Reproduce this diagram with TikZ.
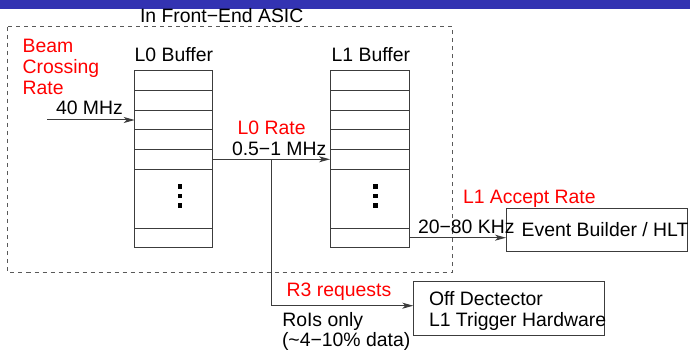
\documentclass[tikz,border=0pt]{standalone}
\usepackage{fontspec}
\setmainfont{Liberation Sans}
\usetikzlibrary{arrows.meta}
\definecolor{barblue}{RGB}{51,51,178}
\definecolor{linegray}{RGB}{60,60,60}
\begin{document}
\begin{tikzpicture}[x=1pt,y=-1pt,
  every node/.style={font=\fontsize{19.4}{21}\selectfont, inner sep=0pt, outer sep=0pt},
  lbl/.style={anchor=base west},
  redlbl/.style={anchor=base west, text=red},
  boxst/.style={draw=linegray, line width=1pt, rectangle},
  rowline/.style={draw=linegray, line width=1pt},
  arr/.style={draw=linegray, line width=1pt, -{Stealth[length=11pt,width=6pt,inset=3pt]}},
  wire/.style={draw=linegray, line width=1pt},
  dotsq/.style={fill=black, minimum size=4.5pt},
  frame/.style={draw=black!65, line width=1pt, dash pattern=on 4pt off 4pt}]
\useasboundingbox (0,0) rectangle (690,350);
\fill[barblue] (0,0) rectangle (690,9);
% front-end frame
\draw[frame] (7.5,27) rectangle (452.5,272);
\node[lbl] (title) at (140,22.6) {In Front−End ASIC};
% Beam crossing rate
\node[redlbl] (bc1) at (22.7,52.3) {Beam};
\node[redlbl] (bc2) at (22.7,73.3) {Crossing};
\node[redlbl] (bc3) at (22.7,94.3) {Rate};
% Buffers
\node[boxst, minimum width=78pt, minimum height=176pt] (l0) at (173.7,159) {};
\node[boxst, minimum width=79pt, minimum height=176pt] (l1) at (369.5,159) {};
\node[lbl] (l0t) at (134.7,62) {L0 Buffer};
\node[lbl] (l1t) at (331.7,62) {L1 Buffer};
\foreach \yy in {90.6,110.2,129.8,149.4,169,228}{
  \draw[rowline] (l0.west |- 0,\yy) -- (l0.east |- 0,\yy);
  \draw[rowline] (l1.west |- 0,\yy) -- (l1.east |- 0,\yy);
}
\foreach \cx/\nm in {180/a,375.7/b}{
  \node[dotsq] (d1\nm) at (\cx,186.3) {};
  \node[dotsq] (d2\nm) at (\cx,196) {};
  \node[dotsq] (d3\nm) at (\cx,205.5) {};
}
% input
\coordinate (in) at (47,120);
\draw[arr] (in) -- (in -| l0.west);
\node[lbl] (mhz40) at (56,115) {40 MHz};
% L0 -> L1
\coordinate (l0out) at (l0.east |- 0,159.3);
\draw[arr] (l0out) -- (l0out -| l1.west);
\node[redlbl] (l0r) at (237.7,134) {L0 Rate};
\node[lbl] (l0f) at (232,155) {0.5−1 MHz};
% Event builder
\node[boxst, minimum width=181.7pt, minimum height=43.4pt] (eb) at (596.85,230) {};
\node[lbl] (ebt) at (521.7,236.7) {Event Builder / HLT};
\coordinate (l1out) at (l1.east |- 0,237.7);
\draw[arr] (l1out) -- (l1out -| eb.west);
\node[redlbl] (l1r) at (463,203.3) {L1 Accept Rate};
\node[lbl] (l1f) at (418,233.3) {20−80 KHz};
% Off detector
\node[boxst, minimum width=190.7pt, minimum height=53.3pt] (off) at (508.65,308.35) {};
\node[lbl] (offt1) at (429,305) {Off Dectector};
\node[lbl] (offt2) at (429,326.7) {L1 Trigger Hardware};
\coordinate (tap) at (271.7,159.3);
\coordinate (corner) at (271.7,305.7);
\draw[wire] (tap) -- (corner);
\draw[arr] (corner) -- (corner -| off.west);
\node[redlbl] (r3) at (286.7,296.7) {R3 requests};
\node[lbl] (roi1) at (282.3,326.7) {RoIs only};
\node[lbl] (roi2) at (282,346.7) {(\textasciitilde4−10\% data)};
\end{tikzpicture}
\end{document}
